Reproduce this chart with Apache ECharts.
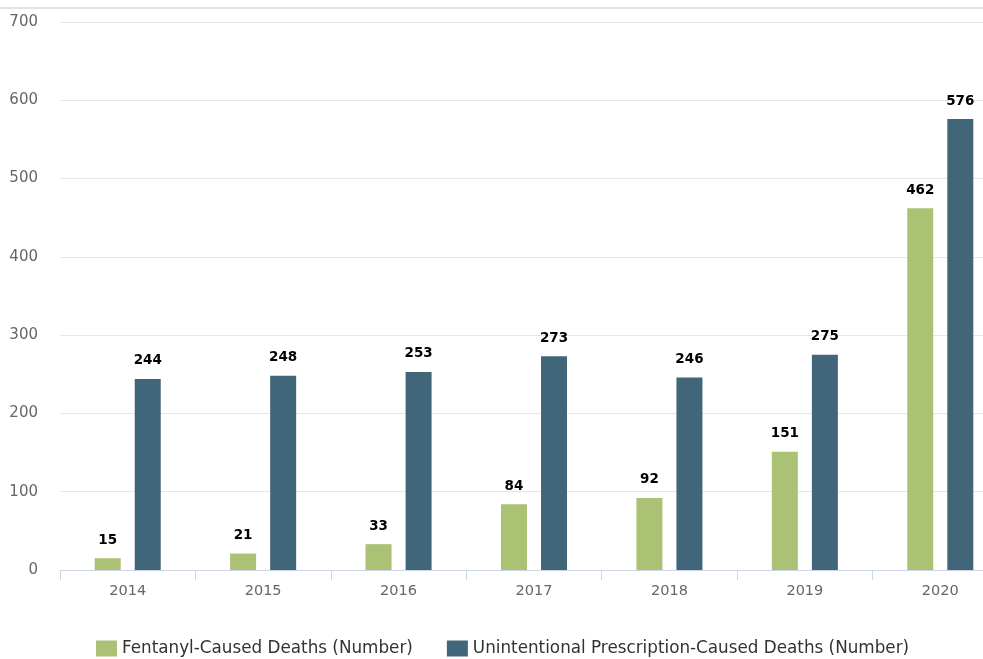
<!DOCTYPE html>
<html>
<head>
<meta charset="utf-8">
<script src="https://cdn.jsdelivr.net/npm/echarts@6/dist/echarts.min.js"></script>
<style>
html,body{margin:0;padding:0;background:#fff;}
#chart{width:983px;height:659px;}
</style>
</head>
<body>
<div id="chart"></div>
<script>
const categories = ['2014','2015','2016','2017','2018','2019','2020'];
const fentanyl = [15, 21, 33, 84, 92, 151, 462];
const prescription = [244, 248, 253, 273, 246, 275, 576];
const seriesNames = ['Fentanyl-Caused Deaths (Number)', 'Unintentional Prescription-Caused Deaths (Number)'];
const yTicks = {min: 0, max: 700, interval: 100};

const FONT = '"DejaVu Sans", sans-serif';
const chart = echarts.init(document.getElementById('chart'));
const labelStyle = {show: true, position: 'top', distance: 11, fontSize: 13.5, fontWeight: 'bold', color: '#000',
  textBorderColor: '#fff', textBorderWidth: 1, fontFamily: FONT};
chart.setOption({
  animation: false,
  textStyle: {fontFamily: FONT},
  graphic: [{type: 'line', shape: {x1: 0, y1: 8, x2: 983, y2: 8}, style: {stroke: '#e3e3e3', lineWidth: 2}}],
  grid: {left: 60, width: 948, top: 22, bottom: 89, outerBoundsMode: 'none', containLabel: false},
  legend: {
    top: 640, left: 96, padding: 0, icon: 'rect', itemWidth: 21, itemHeight: 16, itemGap: 34,
    textStyle: {fontSize: 16.8, color: '#333', fontFamily: FONT},
    data: seriesNames
  },
  xAxis: {
    type: 'category', data: categories,
    axisLine: {lineStyle: {color: '#ccd6eb'}},
    axisTick: {show: true, length: 10, lineStyle: {color: '#ccd6eb'}},
    axisLabel: {color: '#666', fontSize: 14.5, margin: 14, fontFamily: FONT}
  },
  yAxis: {
    type: 'value', min: yTicks.min, max: yTicks.max, interval: yTicks.interval,
    axisLine: {show: false}, axisTick: {show: false},
    axisLabel: {color: '#666', fontSize: 15, margin: 22, fontFamily: FONT},
    splitLine: {lineStyle: {color: '#e6e6e6'}}
  },
  series: [
    {name: seriesNames[0], type: 'bar', data: fentanyl, barWidth: 26, barGap: '54%',
     itemStyle: {color: '#abc174'}, label: labelStyle},
    {name: seriesNames[1], type: 'bar', data: prescription, barWidth: 26, barGap: '54%',
     itemStyle: {color: '#426679'}, label: labelStyle}
  ]
});
</script>
</body>
</html>
